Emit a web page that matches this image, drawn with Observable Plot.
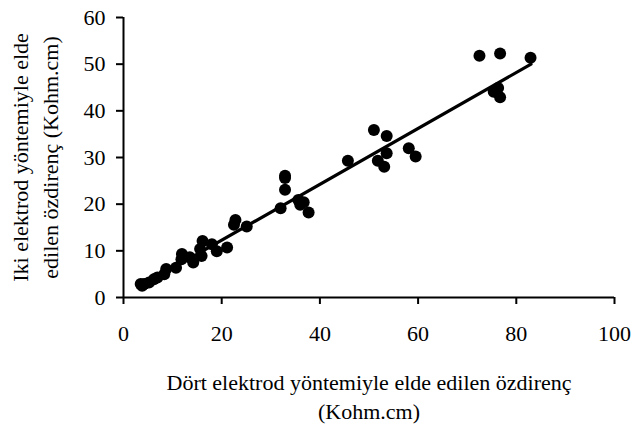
<!DOCTYPE html>
<html>
<head>
<meta charset="utf-8">
<script src="https://cdn.jsdelivr.net/npm/d3@7"></script>
<script src="https://cdn.jsdelivr.net/npm/@observablehq/plot@0.6"></script>
<style>
  html, body { margin: 0; padding: 0; background: #fff; }
  svg { display: block; }
</style>
</head>
<body>
<div id="chart"></div>
<script>
// Data (Kohm.cm)
const fourElectrode = [72.5, 76.7, 82.9, 75.4, 76.3, 76.7, 51.0, 53.6, 53.6, 51.8, 53.1, 58.1, 59.5, 45.7,
  32.9, 32.9, 32.9, 32.0, 35.6, 36.7, 36.0, 37.7, 22.8, 22.5, 25.1, 21.1, 19.0, 18.0, 16.1, 15.6, 15.9,
  14.2, 13.5, 11.9, 11.8, 10.7, 8.7, 8.3, 6.9, 6.2, 5.2, 4.2, 3.5, 3.8];
const twoElectrode = [51.8, 52.3, 51.4, 44.1, 44.9, 42.9, 35.9, 34.6, 30.9, 29.3, 28.0, 32.0, 30.2, 29.3,
  26.1, 25.6, 23.1, 19.1, 20.9, 20.4, 19.9, 18.2, 16.6, 15.6, 15.2, 10.7, 9.9, 11.4, 12.1, 10.4, 8.9,
  7.5, 8.6, 9.3, 8.2, 6.4, 6.1, 5.0, 4.3, 3.9, 3.2, 2.9, 2.9, 2.5];
// Trend line end points as drawn in the reference
const trendX = [3.5, 83.0];
const trendY = [2.4, 50.0];
const xTicks = [0, 20, 40, 60, 80, 100];
const yTicks = [0, 10, 20, 30, 40, 50, 60];
const xTitle = "Dört elektrod yöntemiyle elde edilen özdirenç\n(Kohm.cm)";
const yTitle = "Iki elektrod yöntemiyle elde\nedilen özdirenç (Kohm.cm)";

const points = fourElectrode.map((x, i) => ({x, y: twoElectrode[i]}));
const trend = trendX.map((x, i) => ({x, y: trendY[i]}));

const FS = 22;
const chart = Plot.plot({
  width: 634,
  height: 425,
  marginLeft: 123,
  marginRight: 20,
  marginTop: 17,
  marginBottom: 128,
  style: {fontFamily: "'Liberation Serif', 'Times New Roman', serif", fontSize: FS + "px", color: "#000", background: "#fff"},
  x: {domain: [0, 100]},
  y: {domain: [0, 60]},
  marks: [
    Plot.axisX({ticks: xTicks, tickSize: 7, tickPadding: 21, strokeWidth: 2, label: null, fontSize: FS}),
    Plot.axisY({ticks: yTicks, tickSize: 7, tickPadding: 11, strokeWidth: 2, label: null, fontSize: FS}),
    Plot.ruleY([0], {stroke: "#000", strokeWidth: 2}),
    Plot.ruleX([0], {stroke: "#000", strokeWidth: 2}),
    Plot.line(trend, {x: "x", y: "y", stroke: "#000", strokeWidth: 3.2}),
    Plot.dot(points, {x: "x", y: "y", r: 6, fill: "#000", stroke: "none"}),
    Plot.text([xTitle], {text: d => d, frameAnchor: "bottom", textAnchor: "middle", lineAnchor: "middle", dy: 97.5, lineHeight: 1.32, fontSize: FS, fill: "#000"}),
    Plot.text([yTitle], {text: d => d, frameAnchor: "left", textAnchor: "middle", lineAnchor: "middle", rotate: -90, dx: -90, lineHeight: 1.38, fontSize: FS, fill: "#000"})
  ]
});
document.getElementById("chart").appendChild(chart);
</script>
</body>
</html>
